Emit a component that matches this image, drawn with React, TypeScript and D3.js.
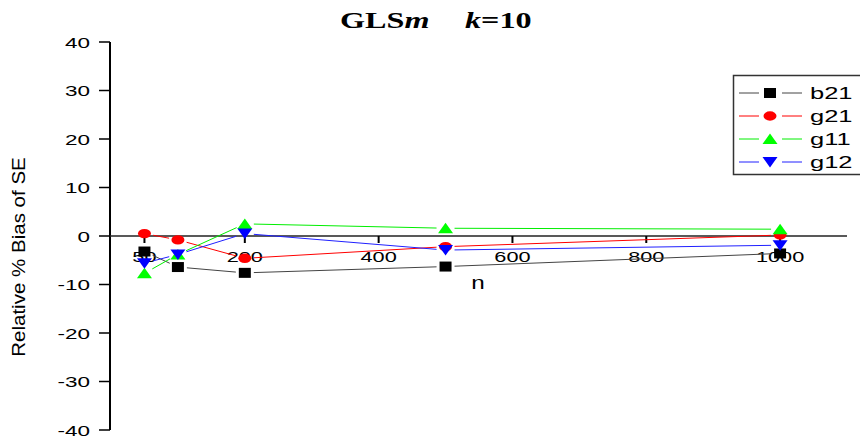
import React from "react";
import * as d3 from "d3";

const nValues = [50, 100, 200, 500, 1000];
const b21 = [-3.2, -6.4, -7.6, -6.3, -3.6];
const g21 = [0.5, -0.8, -4.6, -2.2, 0.2];
const g11 = [-7.7, -3.8, 2.5, 1.6, 1.4];
const g12 = [-5.6, -3.8, 0.5, -2.9, -1.9];
const seriesNames = ["b21", "g21", "g11", "g12"];
const xTicks = [50, 200, 400, 600, 800, 1000];
const yTicks = [40, 30, 20, 10, 0, -10, -20, -30, -40];

const W = 860;
const H = 438;

const x = d3.scaleLinear().domain([0, 1100]).range([111, 847]);
const y = d3.scaleLinear().domain([-40, 40]).range([430, 42]);

const seriesStyle = [
  { line: "#444444", fill: "#000000", shape: "square" },
  { line: "#ff0000", fill: "#ff0000", shape: "circle" },
  { line: "#00ee00", fill: "#00ff00", shape: "up" },
  { line: "#2020ff", fill: "#0000ff", shape: "down" },
];
const seriesValues = [b21, g21, g11, g12];

function markerPath(shape: string): string {
  if (shape === "square") return "M-6,-5H6V5H-6Z";
  if (shape === "circle") return "M-6.5,0A6.5,4.7 0 1,0 6.5,0A6.5,4.7 0 1,0 -6.5,0Z";
  if (shape === "up") return "M0,-5.5L7.5,5H-7.5Z";
  return "M0,5.5L7.5,-5H-7.5Z";
}

const sans = "'Liberation Sans', Arial, sans-serif";
const serif = "'Liberation Serif', 'Times New Roman', serif";

function SText(props: any) {
  const { x: tx, y: ty, sx = 1.55, rot = false, anchor = "start", size = 14, family = sans, weight = "normal", children } = props;
  return (
    <text
      transform={`translate(${tx},${ty})${rot ? " rotate(-90)" : ""} scale(${sx},1)`}
      textAnchor={anchor}
      fontSize={size}
      fontFamily={family}
      fontWeight={weight}
      fill="#000"
    >
      {children}
    </text>
  );
}

function segments(vals: number[], gap: number) {
  const segs: { x1: number; y1: number; x2: number; y2: number }[] = [];
  for (let i = 0; i < vals.length - 1; i++) {
    const ax = x(nValues[i]), ay = y(vals[i]);
    const bx = x(nValues[i + 1]), by = y(vals[i + 1]);
    const dx = bx - ax, dy = by - ay;
    const len = Math.hypot(dx, dy);
    if (len <= 2 * gap) continue;
    const ux = dx / len, uy = dy / len;
    segs.push({ x1: ax + ux * gap, y1: ay + uy * gap, x2: bx - ux * gap, y2: by - uy * gap });
  }
  return segs;
}

export default function App() {
  const legendRows = [93, 116, 139, 162];
  return (
    <svg
      width={W}
      height={H}
      style={{ position: "absolute", left: 0, top: 0, background: "#fff" }}
    >
      <rect x={0} y={0} width={W} height={H} fill="#fff" />
      {/* Title */}
      <SText x={340} y={28} sx={1.4} size={23} family={serif} weight="bold">
        GLS<tspan fontStyle="italic">m</tspan>
      </SText>
      <SText x={465} y={28} sx={1.4} size={23} family={serif} weight="bold">
        <tspan fontStyle="italic">k</tspan>=10
      </SText>

      {/* Y axis */}
      <line x1={x(0) - 1} x2={x(0) - 1} y1={y(40)} y2={y(-40)} stroke="#000" strokeWidth={2} />
      {yTicks.map((t) => (
        <g key={"yt" + t}>
          <line x1={x(0) - 12} x2={x(0) - 1} y1={y(t)} y2={y(t)} stroke="#000" strokeWidth={1.5} />
          <SText x={90} y={y(t) + 5.5} anchor="end" size={15} sx={1.5}>
            {t}
          </SText>
        </g>
      ))}

      {/* X axis at 0 */}
      <line x1={x(0) - 1} x2={x(1100)} y1={y(0)} y2={y(0)} stroke="#222" strokeWidth={1.5} />
      {xTicks.map((t) => (
        <g key={"xt" + t}>
          <line x1={x(t)} x2={x(t)} y1={y(0)} y2={y(0) + 7} stroke="#000" strokeWidth={2} />
          <SText x={x(t)} y={261.5} anchor="middle" size={15} sx={1.45}>
            {t}
          </SText>
        </g>
      ))}

      {/* Axis titles */}
      <SText x={478} y={289} anchor="middle" size={18} sx={1.35}>
        n
      </SText>
      <SText x={25} y={257} rot anchor="middle" size={18} sx={1.14}>
        Relative % Bias of SE
      </SText>

      {/* Series */}
      {seriesValues.map((vals, si) => (
        <g key={"s" + si}>
          {segments(vals, 9).map((s, i) => (
            <line key={i} x1={s.x1} y1={s.y1} x2={s.x2} y2={s.y2} stroke={seriesStyle[si].line} strokeWidth={1} />
          ))}
        </g>
      ))}
      {seriesValues.map((vals, si) => (
        <g key={"m" + si}>
          {vals.map((v, i) => (
            <path
              key={i}
              d={markerPath(seriesStyle[si].shape)}
              transform={`translate(${x(nValues[i])},${y(v)})`}
              fill={seriesStyle[si].fill}
            />
          ))}
        </g>
      ))}

      {/* Legend */}
      <rect x={733.5} y={75.5} width={140} height={99} fill="#fff" stroke="#333" strokeWidth={1.5} />
      {seriesNames.map((name, i) => (
        <g key={"l" + name}>
          <line x1={739} x2={759} y1={legendRows[i]} y2={legendRows[i]} stroke={seriesStyle[i].line} strokeWidth={1} />
          <line x1={782} x2={802} y1={legendRows[i]} y2={legendRows[i]} stroke={seriesStyle[i].line} strokeWidth={1} />
          <path d={markerPath(seriesStyle[i].shape)} transform={`translate(770,${legendRows[i]})`} fill={seriesStyle[i].fill} />
          <SText x={810} y={legendRows[i] + 6} size={17} sx={1.5}>
            {name}
          </SText>
        </g>
      ))}
    </svg>
  );
}
